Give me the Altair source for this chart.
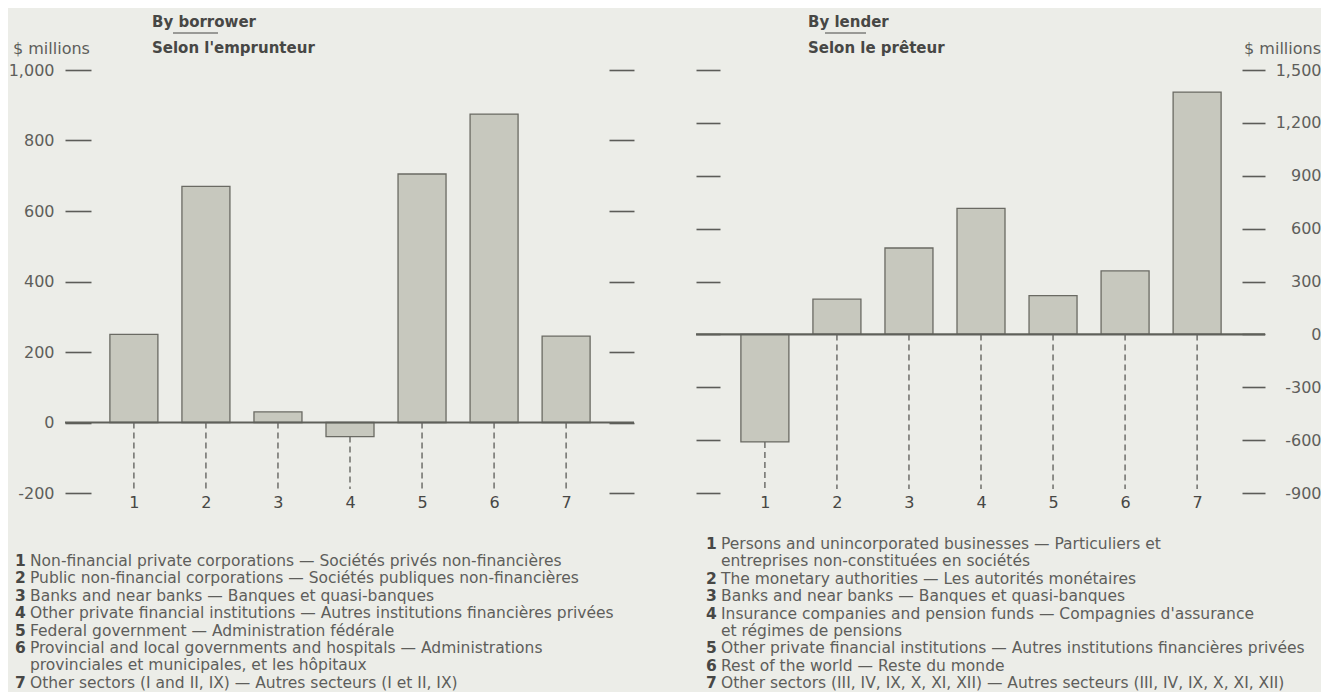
import altair as alt
import pandas as pd

FONT = "DejaVu Sans"
TXT = "#5e5e5b"
DARK = "#474745"
BG = "#ecede8"
BAR_FILL = "#c7c8be"
BAR_STROKE = "#6a6a63"
TICK = "#5c5c58"

# ---- data ----
sector_ids = [1, 2, 3, 4, 5, 6, 7]
borrower_values = [250, 670, 30, -40, 705, 875, 245]
lender_values = [-610, 200, 490, 715, 220, 360, 1375]

borrower_ticks = [-200, 0, 200, 400, 600, 800, 1000]
lender_ticks = [-900, -600, -300, 0, 300, 600, 900, 1200, 1500]

borrower_title = ["By borrower", "Selon l'emprunteur"]
lender_title = ["By lender", "Selon le prêteur"]
unit_label = "$ millions"

legend_nums = ["1", "2", "3", "4", "5", "6", "7"]
borrower_legend = [
    ["Non-financial private corporations — Sociétés privés non-financières"],
    ["Public non-financial corporations — Sociétés publiques non-financières"],
    ["Banks and near banks — Banques et quasi-banques"],
    ["Other private financial institutions — Autres institutions financières privées"],
    ["Federal government — Administration fédérale"],
    ["Provincial and local governments and hospitals — Administrations",
     "provinciales et municipales, et les hôpitaux"],
    ["Other sectors (I and II, IX) — Autres secteurs (I et II, IX)"],
]
lender_legend = [
    ["Persons and unincorporated businesses — Particuliers et",
     "entreprises non-constituées en sociétés"],
    ["The monetary authorities — Les autorités monétaires"],
    ["Banks and near banks — Banques et quasi-banques"],
    ["Insurance companies and pension funds — Compagnies d'assurance",
     "et régimes de pensions"],
    ["Other private financial institutions — Autres institutions financières privées"],
    ["Rest of the world — Reste du monde"],
    ["Other sectors (III, IV, IX, X, XI, XII) — Autres secteurs (III, IV, IX, X, XI, XII)"],
]

W, H = 569, 423
LINE_H = 17.4
LABEL_EXPR = "datum.value < 0 ? '-' + format(-datum.value, ',') : format(datum.value, ',')"


def text_layer(txt, x, y, size=15.5, weight="normal", color=TXT, align="left"):
    return alt.Chart(pd.DataFrame({"t": [txt]})).mark_text(
        font=FONT, fontSize=size, fontWeight=weight, color=color, align=align,
        baseline="alphabetic", lineBreak="\n", lineHeight=LINE_H
    ).encode(text="t:N", x=alt.value(x), y=alt.value(y))


def legend_layers(nums, entries, x, y):
    out = []
    line = 0
    for n, ls in zip(nums, entries):
        yy = y + line * LINE_H
        out.append(text_layer(n, x, yy, weight="bold", color=DARK))
        out.append(text_layer("\n".join(ls), x + 15, yy))
        line += len(ls)
    return out


def panel(values, ticks, labels_left, titles, title_x, underline, unit_x, unit_align,
          legend_entries, legend_x, legend_y):
    df = pd.DataFrame({"k": sector_ids, "v": values})
    xscale = alt.Scale(domain=[0.113, 7.873], nice=False, zero=False)
    yscale = alt.Scale(domain=[ticks[0], ticks[-1]], nice=False, zero=False)

    common = dict(values=ticks, domain=False, grid=False, title=None,
                  tickColor=TICK, tickWidth=1.6, labelExpr=LABEL_EXPR,
                  labelFont=FONT, labelFontSize=16, labelColor=TXT)
    if labels_left:
        ax_l = alt.Axis(orient="left", offset=-26, tickSize=26, labelPadding=11, **common)
        ax_r = alt.Axis(orient="right", offset=-25, tickSize=25, labels=False, **common)
    else:
        ax_l = alt.Axis(orient="left", offset=-24, tickSize=24, labels=False, **common)
        ax_r = alt.Axis(orient="right", offset=-23, tickSize=23, labelPadding=56,
                        labelAlign="right", **common)

    xaxis = alt.Axis(values=sector_ids, format="d", ticks=False, domain=False, grid=False,
                     title=None, labelPadding=1, labelFont=FONT, labelFontSize=16,
                     labelColor=DARK, labelAngle=0, labelFlush=False)

    bars = alt.Chart(df).mark_bar(size=48, fill=BAR_FILL, stroke=BAR_STROKE,
                                  strokeWidth=1.3).encode(
        x=alt.X("k:Q", scale=xscale, axis=xaxis),
        y=alt.Y("v:Q", scale=yscale, axis=ax_l),
        y2=alt.datum(0),
    )
    zero = alt.Chart(df.head(1)).mark_rule(color="#5f605a", strokeWidth=2.2).encode(
        y=alt.Y(datum=0, scale=yscale, axis=None)
    )
    dashes = alt.Chart(df).transform_calculate(lo="min(0, datum.v)").mark_rule(
        color="#666662", strokeWidth=1.4, strokeDash=[6, 4]
    ).encode(
        x=alt.X("k:Q", scale=xscale, axis=xaxis),
        y=alt.Y("lo:Q", scale=yscale, axis=ax_r),
        y2=alt.value(419),
    )

    one = pd.DataFrame({"a": [0]})
    uline = alt.Chart(one).mark_rule(color=DARK, strokeWidth=1).encode(
        x=alt.value(underline[0]), x2=alt.value(underline[1]), y=alt.value(-37)
    )
    layers = [
        bars, zero, dashes,
        text_layer(titles[0], title_x, -43, size=15, weight="bold", color=DARK),
        uline,
        text_layer(titles[1], title_x, -17, size=15, weight="bold", color=DARK),
        text_layer(unit_label, unit_x, -16, size=16, align=unit_align),
    ] + legend_layers(legend_nums, legend_entries, legend_x, legend_y)
    return alt.layer(*layers).resolve_axis(y="independent").properties(width=W, height=H)


left = panel(borrower_values, borrower_ticks, True, borrower_title, 87, (108, 153),
             -52, "left", borrower_legend, -50, 496)
right = panel(lender_values, lender_ticks, False, lender_title, 112, (129, 170),
              625, "right", lender_legend, 10, 479)

chart = alt.hconcat(left, right, spacing=58).properties(
    padding={"left": 0, "top": 7, "right": 0, "bottom": 0},
    background=BG,
).configure_view(stroke=None)

chart.save("out.html", embed_options={"renderer": "svg", "actions": False})
